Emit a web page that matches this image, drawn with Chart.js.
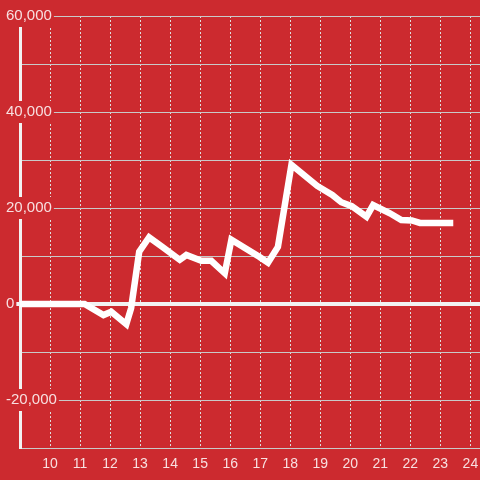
<!DOCTYPE html>
<html>
<head>
<meta charset="utf-8">
<script src="https://cdn.jsdelivr.net/npm/chart.js@4"></script>
<style>
  html, body { margin: 0; padding: 0; background: #cc2a2f; }
  #wrap { width: 480px; height: 480px; position: relative; }
</style>
</head>
<body>
<div id="wrap"><canvas id="balance"></canvas></div>
<script>
// values
var hours = [9, 11.15, 11.78, 12.04, 12.54, 12.7, 12.97, 13.3, 13.74, 14.32, 14.54, 15.04, 15.37, 15.82,
  16.04, 16.98, 17.26, 17.59, 18.04, 18.9, 19.4, 19.7, 20.05, 20.54, 20.76, 21.32, 21.7, 22.05, 22.32, 23.43];
var balance = [0, 0, -2300, -1600, -4200, -900, 10900, 13900, 11900, 9200, 10200, 9000, 9000, 6400,
  13400, 9800, 8600, 11900, 29000, 24600, 22700, 21200, 20400, 18200, 20600, 18900, 17500, 17400, 16900, 16900];
var yLabels = [60000, 40000, 20000, 0, -20000];

var bg = '#cc2a2f';
var labelColor = 'rgba(255,255,255,0.85)';
Chart.defaults.font.family = "'Liberation Sans', Arial, sans-serif";
Chart.defaults.font.size = 14;

var points = hours.map(function(h, i) { return {x: h, y: balance[i]}; });

var chart = new Chart('balance', {
  type: 'line',
  data: {
    datasets: [{
      data: points,
      borderColor: '#ffffff',
      borderWidth: 6.5,
      pointRadius: 0,
      tension: 0,
      fill: false
    }]
  },
  options: {
    responsive: true,
    maintainAspectRatio: false,
    animation: false,
    layout: { padding: { left: 5, top: 16, right: 0, bottom: 0 } },
    plugins: { legend: { display: false }, tooltip: { enabled: false } },
    scales: {
      x: {
        type: 'linear',
        min: 9,
        max: 24.32,
        afterFit: function(s) { s.height = 32; s.paddingLeft = 0; s.paddingRight = 0; },
        border: { display: false, dash: [2, 2] },
        grid: { color: '#dedede', lineWidth: 1, drawTicks: false },
        ticks: {
          stepSize: 1,
          includeBounds: false,
          autoSkip: false,
          maxRotation: 0,
          padding: 8,
          color: labelColor,
          callback: function(v) {
            if (v !== Math.round(v)) return null;
            return v === 9 ? '' : String(v);
          }
        }
      },
      y: {
        min: -30000,
        max: 60000,
        afterFit: function(s) { s.width = 15; s.paddingTop = 0; s.paddingBottom = 0; },
        border: { display: true, color: '#f2f2f2', width: 3 },
        grid: {
          drawTicks: true,
          tickLength: 5,
          color: function(ctx) { return ctx.tick && ctx.tick.value === 0 ? '#f2f2f2' : '#c9c9c9'; },
          lineWidth: function(ctx) { return ctx.tick && ctx.tick.value === 0 ? 4 : 1; },
          tickColor: function(ctx) { return ctx.tick && ctx.tick.value === 0 ? '#f2f2f2' : 'rgba(0,0,0,0)'; }
        },
        ticks: {
          stepSize: 10000,
          mirror: true,
          padding: -14,
          font: { size: 15 },
          color: labelColor,
          showLabelBackdrop: function(ctx) { return ctx.tick && yLabels.indexOf(ctx.tick.value) >= 0; },
          backdropColor: bg,
          backdropPadding: 2,
          callback: function(v) {
            return yLabels.indexOf(v) >= 0 ? v.toLocaleString('en-US') : '';
          }
        }
      }
    }
  }
});
</script>
</body>
</html>
